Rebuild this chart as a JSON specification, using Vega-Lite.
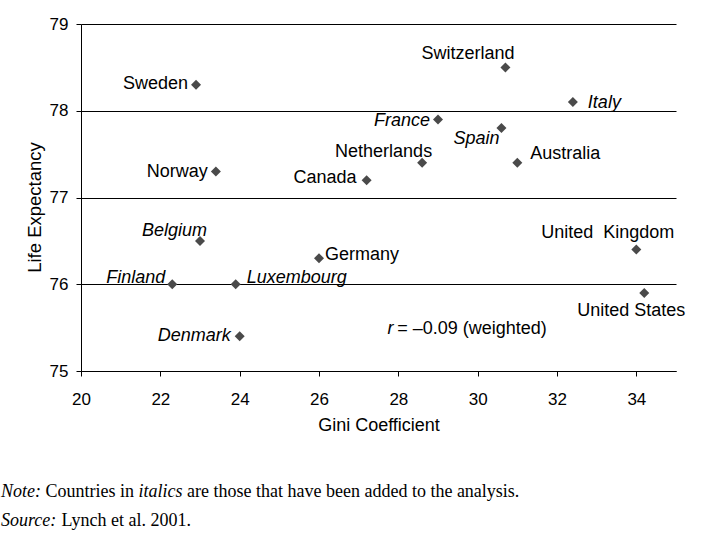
{
  "$schema": "https://vega.github.io/schema/vega-lite/v6.json",
  "width": 595,
  "height": 347,
  "autosize": "none",
  "padding": {"left": 81, "top": 24, "right": 27, "bottom": 174},
  "background": "white",
  "config": {"view": {"stroke": null}, "font": "Liberation Sans"},
  "datasets": {
    "countries": [
      {"country": "Sweden", "label": "Sweden", "gini": 22.9, "life": 78.3, "added": false},
      {"country": "Norway", "label": "Norway", "gini": 23.4, "life": 77.3, "added": false},
      {"country": "Switzerland", "label": "Switzerland", "gini": 30.7, "life": 78.5, "added": false},
      {"country": "Italy", "label": "Italy", "gini": 32.4, "life": 78.1, "added": true},
      {"country": "France", "label": "France", "gini": 29.0, "life": 77.9, "added": true},
      {"country": "Spain", "label": "Spain", "gini": 30.6, "life": 77.8, "added": true},
      {"country": "Netherlands", "label": "Netherlands", "gini": 28.6, "life": 77.4, "added": false},
      {"country": "Australia", "label": "Australia", "gini": 31.0, "life": 77.4, "added": false},
      {"country": "Canada", "label": "Canada", "gini": 27.2, "life": 77.2, "added": false},
      {"country": "Belgium", "label": "Belgium", "gini": 23.0, "life": 76.5, "added": true},
      {"country": "Germany", "label": "Germany", "gini": 26.0, "life": 76.3, "added": false},
      {"country": "Finland", "label": "Finland", "gini": 22.3, "life": 76.0, "added": true},
      {"country": "Luxembourg", "label": "Luxembourg", "gini": 23.9, "life": 76.0, "added": true},
      {"country": "Denmark", "label": "Denmark", "gini": 24.0, "life": 75.4, "added": true},
      {"country": "United Kingdom", "label": "United\u00a0 Kingdom", "gini": 34.0, "life": 76.4, "added": false},
      {"country": "United States", "label": "United States", "gini": 34.2, "life": 75.9, "added": false}
    ],
    "one": [{}]
  },
  "layer": [
    {
      "data": {"name": "countries"},
      "mark": {"type": "point", "shape": "diamond", "filled": true, "color": "#4a4a4a", "size": 100, "opacity": 1},
      "encoding": {
        "x": {
          "field": "gini", "type": "quantitative",
          "scale": {"domain": [20, 35], "nice": false, "zero": false},
          "axis": {
            "title": "Gini Coefficient", "values": [20, 22, 24, 26, 28, 30, 32, 34], "grid": false, "format": "d",
            "domainColor": "black", "tickColor": "black", "tickSize": 5,
            "labelFont": "Liberation Sans", "labelFontSize": 17, "labelColor": "black", "labelPadding": 15, "labelFlush": false,
            "titleFont": "Liberation Sans", "titleFontSize": 18, "titleFontWeight": "normal", "titleColor": "black", "titlePadding": 9
          }
        },
        "y": {
          "field": "life", "type": "quantitative",
          "scale": {"domain": [75, 79], "nice": false, "zero": false},
          "axis": {
            "title": "Life Expectancy", "values": [75, 76, 77, 78, 79], "grid": true, "format": "d",
            "gridColor": "black", "gridOpacity": 1, "gridWidth": 1,
            "domainColor": "black", "tickColor": "black", "tickSize": 5,
            "labelFont": "Liberation Sans", "labelFontSize": 17, "labelColor": "black", "labelPadding": 8, "labelFlush": false,
            "titleFont": "Liberation Sans", "titleFontSize": 18.5, "titleFontWeight": "normal", "titleColor": "black", "titlePadding": 5, "titleY": 183
          }
        }
      }
    },
    {
      "data": {"name": "countries"},
      "mark": {
        "type": "text", "font": "Liberation Sans", "fontSize": 18, "color": "black", "baseline": "middle",
        "fontStyle": {"expr": "datum.added ? 'italic' : 'normal'"},
        "align": {"expr": "{'Italy':'left','Australia':'left','Germany':'left','Luxembourg':'left','United States':'center'}[datum.country] || 'right'"},
        "dx": {"expr": "{'Sweden':-8,'Norway':-8,'Switzerland':9,'Italy':15,'France':-8,'Spain':-2,'Netherlands':10,'Australia':13,'Canada':-10,'Belgium':7,'Germany':6,'Finland':-7,'Luxembourg':11,'Denmark':-9,'United Kingdom':38,'United States':-13}[datum.country]"},
        "dy": {"expr": "{'Sweden':-1,'Norway':1,'Switzerland':-13,'Italy':1,'France':2,'Spain':11,'Netherlands':-11,'Australia':-9,'Canada':-2,'Belgium':-10,'Germany':-3,'Finland':-6,'Luxembourg':-6,'Denmark':0,'United Kingdom':-17,'United States':18}[datum.country]"}
      },
      "encoding": {
        "x": {"field": "gini", "type": "quantitative"},
        "y": {"field": "life", "type": "quantitative"},
        "text": {"field": "label"}
      }
    },
    {
      "data": {"name": "one"},
      "mark": {"type": "text", "text": "r", "font": "Liberation Sans", "fontSize": 18, "fontStyle": "italic", "color": "black", "align": "left", "baseline": "middle", "dy": 2},
      "encoding": {"x": {"datum": 27.73}, "y": {"datum": 75.51}}
    },
    {
      "data": {"name": "one"},
      "mark": {"type": "text", "text": "= \u20130.09 (weighted)", "font": "Liberation Sans", "fontSize": 18, "color": "black", "align": "left", "baseline": "middle", "dy": 2},
      "encoding": {"x": {"datum": 27.97}, "y": {"datum": 75.51}}
    },
    {
      "data": {"name": "one"},
      "mark": {"type": "text", "text": "Note:", "font": "Liberation Serif", "fontSize": 18, "fontStyle": "italic", "color": "black", "align": "left", "baseline": "middle"},
      "encoding": {"x": {"datum": 17.983}, "y": {"datum": 73.605}}
    },
    {
      "data": {"name": "one"},
      "mark": {"type": "text", "text": "Countries in", "font": "Liberation Serif", "fontSize": 18, "color": "black", "align": "left", "baseline": "middle", "dx": 44.5},
      "encoding": {"x": {"datum": 17.983}, "y": {"datum": 73.605}}
    },
    {
      "data": {"name": "one"},
      "mark": {"type": "text", "text": "italics", "font": "Liberation Serif", "fontSize": 18, "fontStyle": "italic", "color": "black", "align": "left", "baseline": "middle", "dx": 137.5},
      "encoding": {"x": {"datum": 17.983}, "y": {"datum": 73.605}}
    },
    {
      "data": {"name": "one"},
      "mark": {"type": "text", "text": "are those that have been added to the analysis.", "font": "Liberation Serif", "fontSize": 18, "color": "black", "align": "left", "baseline": "middle", "dx": 186},
      "encoding": {"x": {"datum": 17.983}, "y": {"datum": 73.605}}
    },
    {
      "data": {"name": "one"},
      "mark": {"type": "text", "text": "Source:", "font": "Liberation Serif", "fontSize": 18, "fontStyle": "italic", "color": "black", "align": "left", "baseline": "middle"},
      "encoding": {"x": {"datum": 17.983}, "y": {"datum": 73.271}}
    },
    {
      "data": {"name": "one"},
      "mark": {"type": "text", "text": "Lynch et al. 2001.", "font": "Liberation Serif", "fontSize": 18, "color": "black", "align": "left", "baseline": "middle", "dx": 60.5},
      "encoding": {"x": {"datum": 17.983}, "y": {"datum": 73.271}}
    }
  ]
}
